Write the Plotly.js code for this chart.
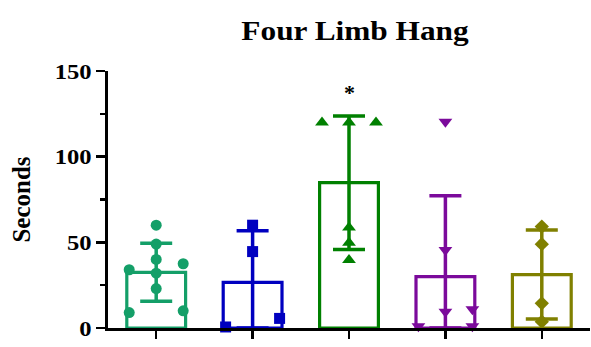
<!DOCTYPE html>
<html>
<head>
<meta charset="utf-8">
<script src="https://cdn.plot.ly/plotly-3.0.1.min.js"></script>
<style>
  html, body { margin: 0; padding: 0; background: #fff; }
  #chart { width: 591px; height: 347px; }
</style>
</head>
<body>
<div id="chart"></div>
<script>
// Four limb hang times per group (seconds)
const groups = ['G1', 'G2', 'G3', 'G4', 'G5'];
const groupMeans = [32.5, 26.6, 84.8, 30.0, 31.2];
const groupSD = [16.9, 30.2, 39.0, 47.2, 26.0];

const pointsG1 = [60, 49, 40, 37.5, 34, 32, 23, 9, 10];
const pointsG2 = [60, 44.6, 0.6, 5.6];
const pointsG3 = [120, 120, 120, 58.6, 49.8, 39.7];
const pointsG4 = [120.4, 45.5, 9.5, 11, 1, 1];
const pointsG5 = [59.2, 48.9, 14.4, 3.7];
const groupPoints = [pointsG1, pointsG2, pointsG3, pointsG4, pointsG5];

const yTickVals = [0, 50, 100, 150];
const yTickText = ['0', '50', '100', '150'];
const sigLabel = '*';
const sigGroup = 2;

// Styling
const colors = ['#149F68', '#0000C0', '#008000', '#7B0A9B', '#808000'];
const symbols = ['circle', 'square', 'triangle-up', 'triangle-down', 'diamond'];
const markerSizes = [11, 11, 12, 12, 11];
// horizontal spread of overlapping points (in units of one step)
const spread = [
  [0, 0, 0, 1, -1, 0, 0, -1, 1],
  [0, 0, -1, 1],
  [-1, 0, 1, 0, 0, 0],
  [0, 0, 0, 1, -1, 1],
  [0, 0, 0, 0]
];
const spreadStep = 0.28;
const serif = 'Liberation Serif, Times New Roman, serif';

const xIdx = groups.map((_, i) => i);

const traces = [];
// hollow bars with SD error bars
groups.forEach((g, i) => {
  traces.push({
    type: 'bar',
    x: [i],
    y: [groupMeans[i]],
    width: 0.61,
    marker: { color: 'rgba(0,0,0,0)', line: { color: colors[i], width: 3.2 } },
    error_y: {
      type: 'data',
      symmetric: false,
      array: [groupSD[i]],
      arrayminus: [Math.min(groupSD[i], groupMeans[i])],
      color: colors[i],
      thickness: 3.5,
      width: 16
    },
    cliponaxis: false,
    hoverinfo: 'skip',
    showlegend: false
  });
});
// individual points
groupPoints.forEach((pts, i) => {
  traces.push({
    type: 'scatter',
    mode: 'markers',
    x: pts.map((_, k) => i + spread[i][k] * spreadStep),
    y: pts,
    marker: { symbol: symbols[i], color: colors[i], size: markerSizes[i], line: { width: 0 } },
    cliponaxis: false,
    hoverinfo: 'skip',
    showlegend: false
  });
});

const layout = {
  width: 591,
  height: 347,
  margin: { l: 108, r: 1, t: 71, b: 19 },
  paper_bgcolor: '#fff',
  plot_bgcolor: '#fff',
  showlegend: false,
  title: {
    text: '<b>Four Limb Hang</b>',
    font: { family: serif, size: 27, color: '#000' },
    x: 355 / 591,
    xanchor: 'center',
    xref: 'container',
    y: 1 - 31 / 347,
    yanchor: 'middle',
    yref: 'container'
  },
  xaxis: {
    range: [-0.5, 4.5],
    tickvals: xIdx,
    ticktext: groups.map(() => ''),
    showticklabels: false,
    ticks: 'outside',
    ticklen: 8,
    tickwidth: 2.5,
    tickcolor: '#000',
    showline: true,
    linecolor: '#000',
    linewidth: 3,
    showgrid: false,
    zeroline: false,
    fixedrange: true
  },
  yaxis: {
    range: [0, 150],
    tickvals: yTickVals,
    ticktext: yTickText.map(t => '<b>' + t + '</b>'),
    ticks: 'outside',
    ticklen: 9,
    tickwidth: 2.5,
    tickcolor: '#000',
    tickfont: { family: serif, size: 22, color: '#000' },
    minor: { tickvals: [25, 75, 125], ticks: 'outside', ticklen: 5, tickwidth: 2.5, tickcolor: '#000' },
    showline: true,
    linecolor: '#000',
    linewidth: 3,
    showgrid: false,
    zeroline: false,
    title: {
      text: '<b>Seconds</b>',
      font: { family: serif, size: 25, color: '#000' },
      standoff: 21
    },
    fixedrange: true
  },
  annotations: [{
    x: sigGroup,
    y: groupMeans[sigGroup] + groupSD[sigGroup],
    xref: 'x',
    yref: 'y',
    yanchor: 'bottom',
    yshift: 9,
    text: '<b>' + sigLabel + '</b>',
    showarrow: false,
    font: { family: serif, size: 22, color: '#000' }
  }]
};

// widen horizontal text a little, anchored at each text's x position
function widenText(gd, selector, factor) {
  gd.querySelectorAll(selector).forEach(el => {
    const ax = parseFloat(el.getAttribute('x')) || 0;
    const old = el.getAttribute('transform') || '';
    let tx = 0;
    const m = /translate\(\s*([-\d.e]+)/.exec(old);
    if (m && old.trim().indexOf('translate') === 0) tx = parseFloat(m[1]);
    const cx = ax + tx;
    el.setAttribute('transform', `translate(${cx},0) scale(${factor},1) translate(${-cx},0) ${old}`);
  });
}

const gd = document.getElementById('chart');
Plotly.newPlot(gd, traces, layout, { staticPlot: true, displayModeBar: false }).then(() => {
  widenText(gd, '.gtitle', 1.16);
  widenText(gd, '.ytick text', 1.12);
});
</script>
</body>
</html>
